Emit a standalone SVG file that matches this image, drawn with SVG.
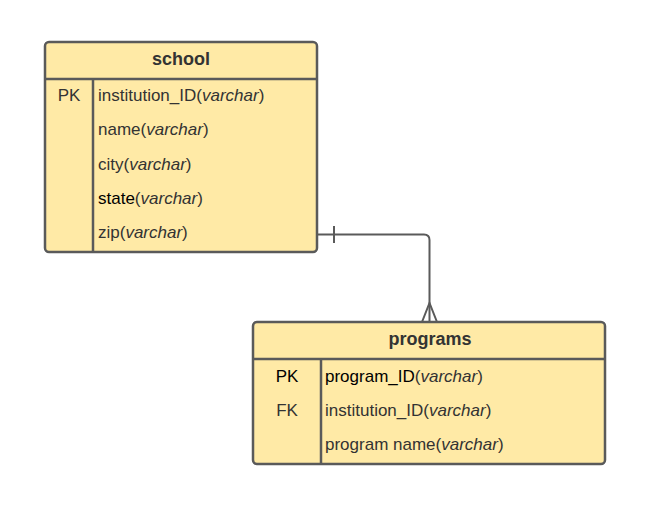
<svg xmlns="http://www.w3.org/2000/svg" width="651" height="506" viewBox="0 0 651 506">
<style>
.box{fill:#FFEAA6;stroke:#5A5A5A;stroke-width:2.5}
.ln{stroke:#5A5A5A;stroke-width:2.5;fill:none}
.cn{stroke:#5A5A5A;stroke-width:2;fill:none}
text{font-family:"Liberation Sans",Arial,sans-serif;font-size:17px;fill:#333}
.t{font-weight:bold;font-size:18px;text-anchor:middle}
.k{text-anchor:middle}
.i{font-style:italic}
.b{fill:#000}
</style>
<rect width="651" height="506" fill="#fff"/>
<g id="connectors">
<path class="cn" d="M318 234.5 H424 Q429.5 234.5 429.5 240 V322"/>
<line class="cn" x1="334" y1="226" x2="334" y2="243"/>
<path class="cn" d="M422 322 L429.5 303 L437 322"/>
</g>
<g id="school">
<rect class="box" x="45" y="42" width="272" height="210" rx="4"/>
<line class="ln" x1="45" y1="79" x2="317" y2="79"/>
<line class="ln" x1="93" y1="79" x2="93" y2="252"/>
<text class="t" x="181" y="65">school</text>
<text class="k" x="69" y="101">PK</text>
<text x="98" y="101">institution_ID(<tspan class="i">varchar</tspan>)</text>
<text x="98" y="135">name(<tspan class="i">varchar</tspan>)</text>
<text x="98" y="170">city(<tspan class="i">varchar</tspan>)</text>
<text x="98" y="204"><tspan class="b">state</tspan>(<tspan class="i">varchar</tspan>)</text>
<text x="98" y="238">zip(<tspan class="i">varchar</tspan>)</text>
</g>
<g id="programs">
<rect class="box" x="253" y="322" width="352" height="142" rx="4"/>
<line class="ln" x1="253" y1="359" x2="605" y2="359"/>
<line class="ln" x1="321" y1="359" x2="321" y2="464"/>
<text class="t" x="430" y="345">programs</text>
<text class="k b" x="287" y="382">PK</text>
<text x="325" y="382"><tspan class="b">program_ID</tspan>(<tspan class="i">varchar</tspan>)</text>
<text class="k" x="287" y="416">FK</text>
<text x="325" y="416">institution_ID(<tspan class="i">varchar</tspan>)</text>
<text x="325" y="450">program name(<tspan class="i">varchar</tspan>)</text>
</g>
</svg>
